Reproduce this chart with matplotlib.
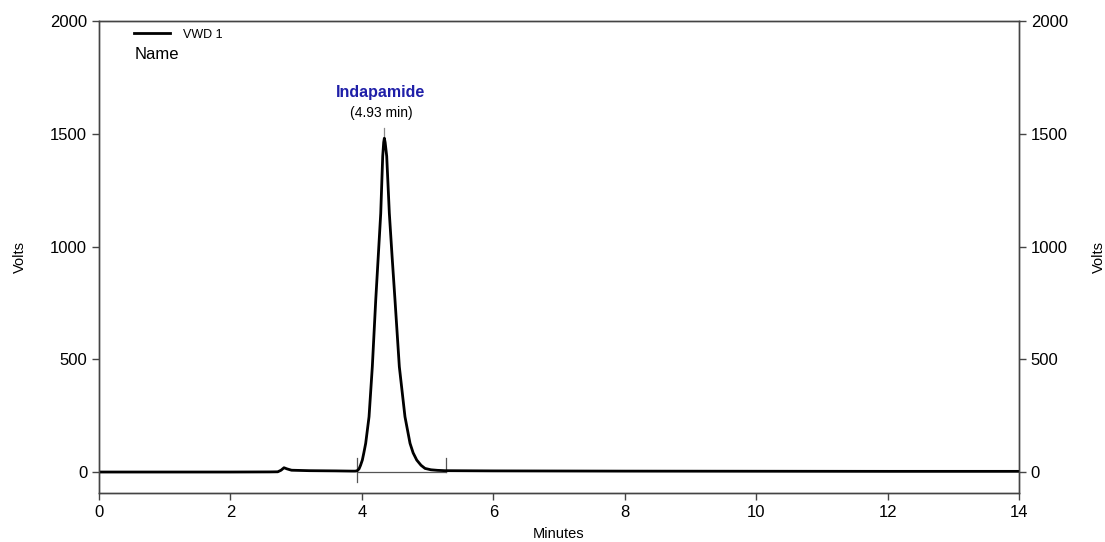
import matplotlib
matplotlib.use('Agg')
import matplotlib.pyplot as plt
import numpy as np

plt.rcParams['font.family'] = ['Liberation Sans', 'DejaVu Sans']

# chromatogram trace (minutes, volts)
time = [0.0, 1.0, 2.0, 2.6, 2.72, 2.77, 2.815, 2.86, 2.93, 3.2, 3.6, 3.85, 3.9, 3.93,
        3.957, 3.98, 4.007, 4.03, 4.058, 4.109, 4.159, 4.211, 4.25, 4.287, 4.317, 4.332, 4.342,
        4.354, 4.378, 4.418, 4.46, 4.504, 4.570, 4.656, 4.733, 4.78, 4.835, 4.9, 4.961, 5.05,
        5.15, 5.265, 6.0, 8.0, 10.0, 12.0, 14.0]
volts = [0, 0, 0, 0.5, 1, 8, 19, 14, 8, 6, 5, 4, 4, 6,
         14, 30, 53, 85, 127, 245, 467, 763, 960, 1147, 1400, 1462, 1480,
         1462, 1400, 1147, 955, 763, 467, 245, 127, 85, 53, 30, 16, 10,
         7.5, 6, 5, 4, 3.5, 3, 3]

peak_name = 'Indapamide'
peak_label = '(4.93 min)'
peak_apex = 4.342
peak_start = 3.92
peak_end = 5.28
baseline_level = 1

xticks = [0, 2, 4, 6, 8, 10, 12, 14]
yticks = [0, 500, 1000, 1500, 2000]

fig = plt.figure(figsize=(11.05, 5.42), dpi=100)
ax = fig.add_axes([0.0896, 0.0904, 0.8326, 0.8709])

ax.plot(time, volts, color='black', lw=2.0, label='VWD 1', zorder=3,
        solid_joinstyle='round')

# integration baseline and markers
ax.plot([peak_start, peak_end], [baseline_level, baseline_level], color='#555555', lw=0.9, zorder=2)
ax.plot([peak_start, peak_start], [-44, 63], color='#555555', lw=0.9, zorder=2)
ax.plot([peak_end, peak_end], [baseline_level, 63], color='#555555', lw=0.9, zorder=2)
ax.plot([peak_apex, peak_apex], [1480, 1525], color='#888888', lw=0.9, zorder=2)

ax.text(4.29, 1682, peak_name, color='#1f1fa8', fontsize=11.5, fontweight='bold',
        ha='center', va='center')
ax.text(4.29, 1591, peak_label, color='black', fontsize=10, ha='center', va='center')

ax.set_xlim(0, 14)
ax.set_ylim(-93, 2000)
ax.set_xticks(xticks)
ax.set_yticks(yticks)

spine_col = '#444444'
for s in ax.spines.values():
    s.set_color(spine_col)
    s.set_linewidth(1.0)

ax.tick_params(axis='both', direction='out', length=5, width=1.0, color=spine_col,
               labelsize=12, pad=3.5)
ax.set_xlabel('Minutes', fontsize=10.5, labelpad=5)
ax.set_ylabel('Volts', fontsize=10.5, labelpad=17)

ax2 = ax.twinx()
ax2.set_ylim(ax.get_ylim())
ax2.set_yticks(yticks)
ax2.tick_params(axis='y', direction='out', length=5, width=1.0, color=spine_col,
                labelsize=12, pad=3.5)
for s in ax2.spines.values():
    s.set_color(spine_col)
    s.set_linewidth(1.0)
ax2.set_ylabel('Volts', fontsize=10.5, labelpad=17)

leg = ax.legend(loc='upper left', bbox_to_anchor=(0.038, 0.984), frameon=False,
                fontsize=9, handlelength=2.9, handletextpad=1.0,
                borderpad=0, borderaxespad=0)
ax.text(0.039, 0.928, 'Name', transform=ax.transAxes, fontsize=12, ha='left', va='center')

fig.savefig('out.png', dpi=100)
